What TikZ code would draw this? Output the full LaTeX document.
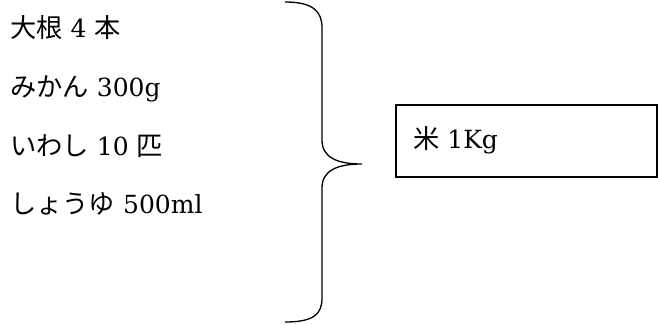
\documentclass[tikz,border=0pt]{standalone}
\usepackage{fontspec}
\setmainfont{DejaVu Serif}
\newfontfamily\jpfont[Scale=1.05]{Noto Sans CJK JP}
\usetikzlibrary{positioning}

\begin{document}
\begin{tikzpicture}[
    x=1pt, y=-1pt,
    item/.style={anchor=base west, inner sep=0pt, font=\fontsize{25}{29}\selectfont},
    bracket/.style={line width=1.3pt, black},
    resultbox/.style={draw, line width=1.3pt}
]
\useasboundingbox (0,0) rectangle (658,324);

% shopping list
\node[item] (daikon) at (10,37) {{\jpfont 大根} 4 {\jpfont 本}};
\node[item] (mikan) at (10,96) {{\jpfont みかん} 300g};
\node[item] (iwashi) at (10,155) {{\jpfont いわし} 10 {\jpfont 匹}};
\node[item] (shoyu) at (10,213) {{\jpfont しょうゆ} 500ml};

% curly bracket
\draw[bracket] (285,2) .. controls (314,2) and (322,12) .. (322,28)
    -- (322,140) .. controls (322,158) and (338,164) .. (362,164)
    .. controls (338,164) and (322,170) .. (322,188)
    -- (322,298) .. controls (322,314) and (314,322) .. (285,322);

% total
\draw[resultbox] (396,105) rectangle (657,177);
\node[item] (kome) at (413,148) {{\jpfont 米} 1Kg};
\end{tikzpicture}
\end{document}
